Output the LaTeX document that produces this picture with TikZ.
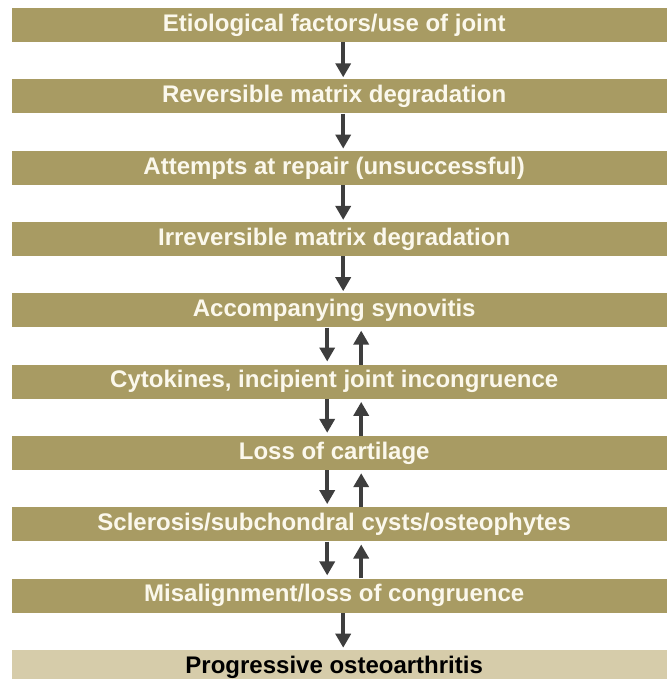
\documentclass[tikz,border=0pt]{standalone}
\usepackage{fontspec}
\setmainfont{Liberation Sans}
\usetikzlibrary{arrows.meta}
\definecolor{olive}{HTML}{A89B63}
\definecolor{sand}{HTML}{D6CCAA}
\definecolor{cream}{HTML}{FBF8EC}
\definecolor{arrowgray}{HTML}{3E3E3E}
\tikzset{
  stage/.style={fill=olive, text=cream, draw=none, anchor=north west,
    minimum width=655pt, minimum height=34pt, inner sep=0pt,
    font=\fontsize{24}{28}\selectfont\bfseries,
    execute at begin node={\hspace*{-11pt}}},
  outcome/.style={stage, fill=sand, text=black, minimum height=35pt},
  flow/.style={draw=arrowgray, line width=4pt,
    -{Triangle[width=15pt,length=14pt]}, arrowgray},
}
\begin{document}
\begin{tikzpicture}[x=1pt,y=1pt]
  \useasboundingbox[fill=white] (0,0) rectangle (667,-679);
  % stages of the process, top to bottom
  \node[stage] (b1) at (12,-8)      {Etiological factors/use of joint};
  \node[stage] (b2) at (12,-79.3)   {Reversible matrix degradation};
  \node[stage] (b3) at (12,-150.6)  {Attempts at repair (unsuccessful)};
  \node[stage] (b4) at (12,-221.9)  {Irreversible matrix degradation};
  \node[stage] (b5) at (12,-293.2)  {Accompanying synovitis};
  \node[stage] (b6) at (12,-364.5)  {Cytokines, incipient joint incongruence};
  \node[stage] (b7) at (12,-435.8)  {Loss of cartilage};
  \node[stage] (b8) at (12,-507.1)  {Sclerosis/subchondral cysts/osteophytes};
  \node[stage] (b9) at (12,-578.4)  {Misalignment/loss of congruence};
  \node[outcome] (b10) at (12,-649.7) {Progressive osteoarthritis};
  % the last box runs on past the lower edge
  \fill[sand] (b10.south west) rectangle (667,-679);
  % one-way steps
  \foreach \a/\b in {b1/b2,b2/b3,b3/b4,b4/b5,b9/b10}
    \draw[flow] ([xshift=3.5pt]\a.south) -- ([xshift=3.5pt,yshift=2pt]\b.north);
  % feedback steps (down and back up)
  \foreach \a/\b in {b5/b6,b6/b7,b7/b8,b8/b9}{
    \draw[flow] ([xshift=-12.5pt]\a.south) -- ([xshift=-12.5pt,yshift=3pt]\b.north);
    \draw[flow] ([xshift=21.5pt]\b.north) -- ([xshift=21.5pt,yshift=-3pt]\a.south);
  }
\end{tikzpicture}
\end{document}
